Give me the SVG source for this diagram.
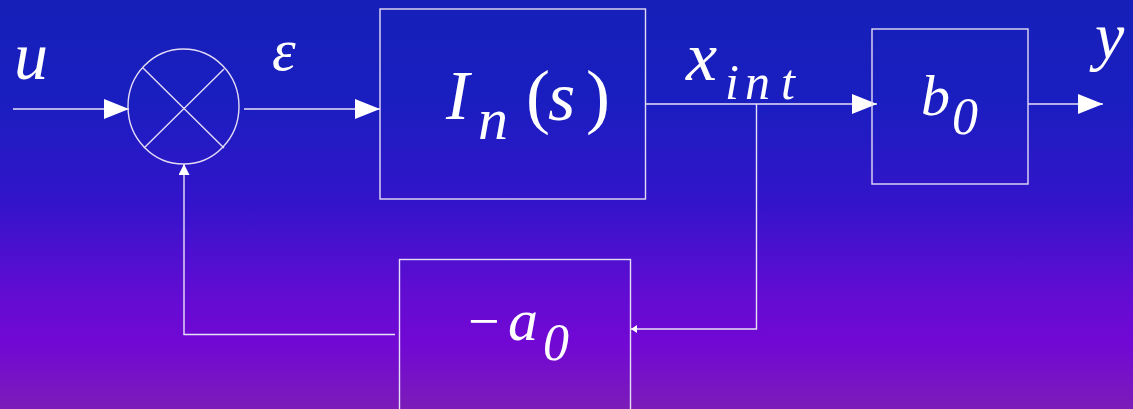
<svg xmlns="http://www.w3.org/2000/svg" width="1133" height="409" viewBox="0 0 1133 409">
  <defs>
    <linearGradient id="bg" x1="0" y1="0" x2="0" y2="1">
      <stop offset="0" stop-color="#1620b8"/>
      <stop offset="0.25" stop-color="#1a1ec0"/>
      <stop offset="0.5" stop-color="#3414ca"/>
      <stop offset="0.72" stop-color="#620cd2"/>
      <stop offset="0.84" stop-color="#7208d4"/>
      <stop offset="1" stop-color="#7c1cb8"/>
    </linearGradient>
    <marker id="big" markerUnits="userSpaceOnUse" markerWidth="26" markerHeight="21" refX="25" refY="10" orient="auto">
      <path d="M0,0 L25,10 L0,20 z" fill="#ffffff"/>
    </marker>
    <marker id="small" markerUnits="userSpaceOnUse" markerWidth="12" markerHeight="12" refX="11" refY="5.5" orient="auto">
      <path d="M0,0 L11,5.5 L0,11 z" fill="#ffffff"/>
    </marker>
    <marker id="tiny" markerUnits="userSpaceOnUse" markerWidth="7" markerHeight="9" refX="6" refY="4" orient="auto">
      <path d="M0,0 L6,4 L0,8 z" fill="#ffffff"/>
    </marker>
  </defs>
  <rect x="0" y="0" width="1133" height="409" fill="url(#bg)"/>

  <g id="connectors" fill="none" stroke="#e8e2f6" stroke-width="1.4">
    <path d="M13,109 L129,109" marker-end="url(#big)"/>
    <path d="M244,109 L380,109" marker-end="url(#big)"/>
    <path d="M645.5,104 L877,104" marker-end="url(#big)"/>
    <path d="M1028,104 L1103,104" marker-end="url(#big)"/>
    <path d="M756.5,104 L756.5,329 L631,329" marker-end="url(#tiny)"/>
    <path d="M395,334.5 L184,334.5 L184,164" marker-end="url(#small)"/>
  </g>

  <g id="label-u"><text x="14" y="79" font-size="68" font-family="Liberation Serif, DejaVu Serif, serif" font-style="italic" fill="#ffffff">u</text></g>
  <g id="label-eps"><text x="272" y="70" font-size="60" font-family="Liberation Serif, DejaVu Serif, serif" font-style="italic" fill="#ffffff">ε</text></g>
  <g id="label-xint">
    <text x="686" y="80" font-size="70" font-family="Liberation Serif, DejaVu Serif, serif" font-style="italic" fill="#ffffff">x</text>
    <text y="99" font-size="50" font-family="Liberation Serif, DejaVu Serif, serif" font-style="italic" fill="#ffffff"><tspan x="725">i</tspan><tspan x="745">n</tspan><tspan x="781">t</tspan></text>
  </g>
  <g id="label-y"><text x="1095" y="58" font-size="66" font-family="Liberation Serif, DejaVu Serif, serif" font-style="italic" fill="#ffffff">y</text></g>

  <g id="sum" fill="none" stroke="#e4dcf4" stroke-width="1.4">
    <ellipse cx="183.5" cy="106.5" rx="55.5" ry="57.5"/>
    <path d="M143,68 L224,148 M224,69 L144,148"/>
  </g>

  <g id="In">
    <rect x="380" y="9" width="265.5" height="190" fill="none" stroke="#e4dcf4" stroke-width="1.4"/>
    <text x="446" y="119" font-size="70" font-family="Liberation Serif, DejaVu Serif, serif" font-style="italic" fill="#ffffff">I</text>
    <text x="478" y="139" font-size="60" font-family="Liberation Serif, DejaVu Serif, serif" font-style="italic" fill="#ffffff">n</text>
    <text x="526" y="120" font-size="72" font-family="Liberation Serif, DejaVu Serif, serif" fill="#ffffff">(</text>
    <text x="548" y="120" font-size="70" font-family="Liberation Serif, DejaVu Serif, serif" font-style="italic" fill="#ffffff">s</text>
    <text x="586" y="120" font-size="72" font-family="Liberation Serif, DejaVu Serif, serif" fill="#ffffff">)</text>
  </g>

  <g id="b0">
    <rect x="872" y="29" width="156" height="155" fill="none" stroke="#e4dcf4" stroke-width="1.4"/>
    <text x="921" y="115" font-size="58" font-family="Liberation Serif, DejaVu Serif, serif" font-style="italic" fill="#ffffff">b</text>
    <text x="952" y="134" font-size="52" font-family="Liberation Serif, DejaVu Serif, serif" font-style="italic" fill="#ffffff">0</text>
  </g>

  <g id="a0">
    <rect x="399.5" y="259.5" width="231" height="160" fill="none" stroke="#e4dcf4" stroke-width="1.4"/>
    <text x="468" y="340" font-size="56" font-family="Liberation Serif, DejaVu Serif, serif" fill="#ffffff">−</text>
    <text x="508" y="340" font-size="60" font-family="Liberation Serif, DejaVu Serif, serif" font-style="italic" fill="#ffffff">a</text>
    <text x="543" y="360" font-size="52" font-family="Liberation Serif, DejaVu Serif, serif" font-style="italic" fill="#ffffff">0</text>
  </g>
</svg>
